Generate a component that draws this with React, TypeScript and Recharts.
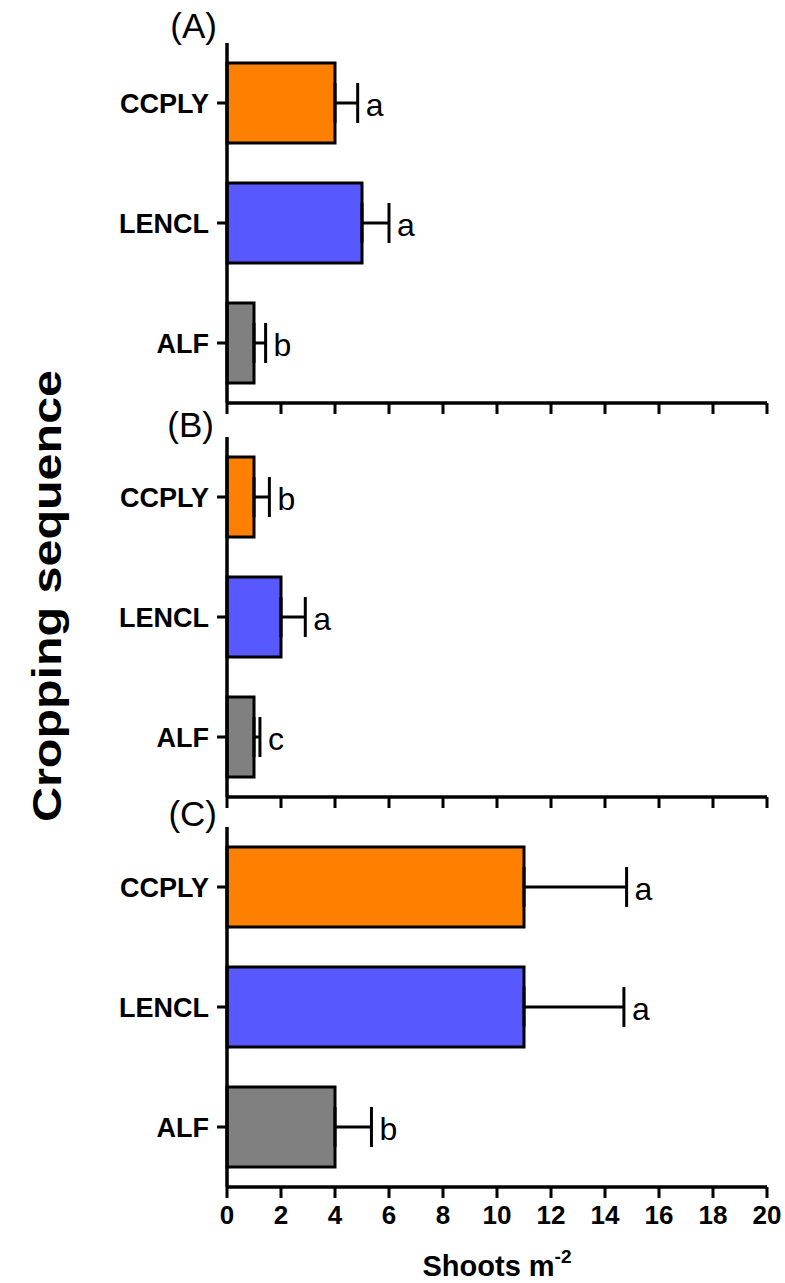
import React from 'react';
import { BarChart, Bar, XAxis, YAxis, ErrorBar, LabelList, Cell } from 'recharts';

const categories = ['CCPLY', 'LENCL', 'ALF'];
const barColors = ['#FF8000', '#5858FF', '#808080'];
const xTicks = [0, 2, 4, 6, 8, 10, 12, 14, 16, 18, 20];

// (A)
const meansA = [4, 5, 1];
const errorsA = [0.84, 1.0, 0.43];
const lettersA = ['a', 'a', 'b'];

// (B)
const meansB = [1, 2, 1];
const errorsB = [0.57, 0.9, 0.22];
const lettersB = ['b', 'a', 'c'];

// (C)
const meansC = [11, 11, 4];
const errorsC = [3.8, 3.7, 1.35];
const lettersC = ['a', 'a', 'b'];

const FONT = '"Liberation Sans", Arial, Helvetica, sans-serif';

const buildRows = (means: number[], errors: number[], letters: string[]) =>
  categories.map((name, i) => ({
    name,
    value: means[i],
    hi: errors[i],
    err: [0, errors[i]],
    letter: letters[i],
  }));

const rowsA = buildRows(meansA, errorsA, lettersA);
const rowsB = buildRows(meansB, errorsB, lettersB);
const rowsC = buildRows(meansC, errorsC, lettersC);

const letterContent = (rows: any[]) => (props: any) => {
  const { x, y, width, height, index, value } = props;
  const row = rows[index];
  if (!row) return null;
  // bar end pixel -> scale to the cap of the error bar
  const capX = Number(x) + (Number(width) * (row.value + row.hi)) / row.value;
  return (
    <text
      x={capX + 8}
      y={Number(y) + Number(height) / 2 + 13}
      fontSize={32}
      fontFamily={FONT}
      fill="#000"
    >
      {value}
    </text>
  );
};

interface PanelProps {
  rows: any[];
  top: number;
  height: number;
  axisHeight: number;
  showLabels: boolean;
}

const Panel: React.FC<PanelProps> = ({ rows, top, height, axisHeight, showLabels }) => (
  <div style={{ position: 'absolute', left: 0, top }}>
    <BarChart
      width={785}
      height={height}
      data={rows}
      layout="vertical"
      margin={{ top: 43, right: 18, bottom: 0, left: 0 }}
    >
      <XAxis
        type="number"
        domain={[0, 20]}
        ticks={xTicks}
        interval={0}
        height={axisHeight}
        tickSize={11}
        tickMargin={8}
        axisLine={{ stroke: '#000', strokeWidth: 3.5 }}
        tickLine={{ stroke: '#000', strokeWidth: 3 }}
        tick={{ fill: '#000', fontSize: 26, fontWeight: 700, fontFamily: FONT }}
        tickFormatter={showLabels ? undefined : () => ''}
      />
      <YAxis
        type="category"
        dataKey="name"
        width={227}
        tickSize={10}
        tickMargin={8}
        axisLine={{ stroke: '#000', strokeWidth: 3.5 }}
        tickLine={{ stroke: '#000', strokeWidth: 3 }}
        tick={{ fill: '#000', fontSize: 27, fontWeight: 700, fontFamily: FONT }}
      />
      <Bar dataKey="value" barSize={80} stroke="#000" strokeWidth={3} isAnimationActive={false}>
        {rows.map((r, i) => (
          <Cell key={r.name} fill={barColors[i]} />
        ))}
        <ErrorBar dataKey="err" direction="x" width={20} stroke="#000" strokeWidth={3} />
        <LabelList dataKey="letter" content={letterContent(rows)} />
      </Bar>
    </BarChart>
  </div>
);

export default function App() {
  return (
    <div
      style={{
        position: 'absolute',
        left: 0,
        top: 0,
        width: 785,
        height: 1283,
        background: '#fff',
        overflow: 'hidden',
      }}
    >
      <Panel rows={rowsA} top={0} height={433} axisHeight={30} showLabels={false} />
      <Panel rows={rowsB} top={394} height={433} axisHeight={30} showLabels={false} />
      <Panel rows={rowsC} top={784} height={463} axisHeight={60} showLabels={true} />
      <svg
        width={785}
        height={1283}
        style={{ position: 'absolute', left: 0, top: 0, pointerEvents: 'none' }}
      >
        <g fontFamily={FONT} fill="#000">
          <text x={217} y={38} fontSize={35} textAnchor="end">(A)</text>
          <text x={214} y={437} fontSize={35} textAnchor="end">(B)</text>
          <text x={217} y={826} fontSize={35} textAnchor="end">(C)</text>
          <text
            transform="translate(61, 596) rotate(-90)"
            fontSize={40}
            fontWeight={700}
            textAnchor="middle"
            textLength={452}
            lengthAdjust="spacingAndGlyphs"
          >
            Cropping sequence
          </text>
          <text x={497} y={1276} fontSize={29} fontWeight={700} textAnchor="middle">
            Shoots m<tspan fontSize={19} dy={-13}>-2</tspan>
          </text>
        </g>
      </svg>
    </div>
  );
}
